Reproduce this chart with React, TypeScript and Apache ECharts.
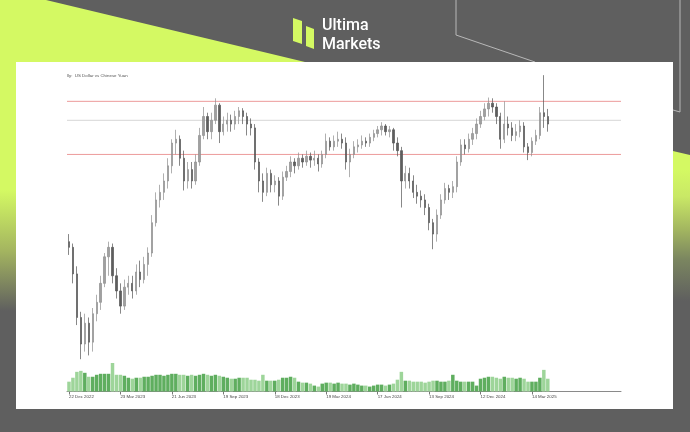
import React, { useEffect, useRef } from "react";
import * as echarts from "echarts";

// ---- chart data (weekly candles, USD/CNY) ----
const TITLE = "lly:  US Dollar vs Chinese Yuan";

const TICK_LABELS = [
  "22 Dec 2022", "23 Mar 2023", "21 Jun 2023", "19 Sep 2023", "18 Dec 2023",
  "19 Mar 2024", "17 Jun 2024", "13 Sep 2024", "12 Dec 2024", "14 Mar 2025",
];
const TICK_EVERY = 13; // weeks between labelled ticks
const SLOTS = 140; // axis length in weeks (leaves empty room on the right)

const OPEN = [
  6.990, 6.975, 6.905, 6.790, 6.720, 6.775, 6.725, 6.800, 6.830, 6.880,
  6.950, 6.975, 6.900, 6.860, 6.820, 6.870, 6.880, 6.860, 6.910, 6.890,
  6.930, 6.960, 7.040, 7.100, 7.120, 7.150, 7.190, 7.250, 7.260, 7.210,
  7.150, 7.180, 7.150, 7.200, 7.270, 7.320, 7.280, 7.310, 7.350, 7.280,
  7.300, 7.310, 7.300, 7.320, 7.335, 7.320, 7.300, 7.290, 7.200, 7.150,
  7.120, 7.170, 7.140, 7.150, 7.110, 7.160, 7.175, 7.200, 7.190, 7.210,
  7.200, 7.215, 7.205, 7.210, 7.195, 7.220, 7.255, 7.240, 7.255, 7.260,
  7.250, 7.200, 7.220, 7.240, 7.245, 7.255, 7.250, 7.265, 7.275, 7.285,
  7.295, 7.280, 7.285, 7.250, 7.230, 7.150, 7.170, 7.150, 7.120, 7.110,
  7.100, 7.080, 7.040, 7.010, 7.060, 7.100, 7.130, 7.120, 7.135, 7.200,
  7.245, 7.235, 7.260, 7.275, 7.300, 7.320, 7.340, 7.355, 7.345, 7.320,
  7.260, 7.300, 7.290, 7.270, 7.280, 7.295, 7.240, 7.225, 7.255, 7.270,
  7.330, 7.320,
];
const CLOSE = [
  6.975, 6.905, 6.790, 6.720, 6.775, 6.725, 6.800, 6.830, 6.880, 6.950,
  6.975, 6.900, 6.860, 6.820, 6.870, 6.880, 6.860, 6.910, 6.890, 6.930,
  6.960, 7.040, 7.100, 7.120, 7.150, 7.190, 7.250, 7.260, 7.210, 7.150,
  7.180, 7.150, 7.200, 7.270, 7.320, 7.280, 7.310, 7.350, 7.280, 7.300,
  7.310, 7.300, 7.320, 7.335, 7.320, 7.300, 7.290, 7.200, 7.150, 7.120,
  7.170, 7.140, 7.150, 7.110, 7.160, 7.175, 7.200, 7.190, 7.210, 7.200,
  7.215, 7.205, 7.210, 7.195, 7.220, 7.255, 7.240, 7.255, 7.260, 7.250,
  7.200, 7.220, 7.240, 7.245, 7.255, 7.250, 7.265, 7.275, 7.285, 7.295,
  7.280, 7.285, 7.250, 7.230, 7.150, 7.170, 7.150, 7.120, 7.110, 7.100,
  7.080, 7.040, 7.010, 7.060, 7.100, 7.130, 7.120, 7.135, 7.200, 7.245,
  7.235, 7.260, 7.275, 7.300, 7.320, 7.340, 7.355, 7.345, 7.320, 7.260,
  7.300, 7.290, 7.270, 7.280, 7.295, 7.240, 7.225, 7.255, 7.270, 7.330,
  7.320, 7.300,
];
const LOW = [
  6.955, 6.880, 6.770, 6.680, 6.700, 6.690, 6.700, 6.780, 6.810, 6.870,
  6.900, 6.880, 6.840, 6.800, 6.810, 6.850, 6.840, 6.850, 6.870, 6.880,
  6.900, 6.950, 7.030, 7.080, 7.100, 7.130, 7.170, 7.220, 7.190, 7.125,
  7.130, 7.130, 7.140, 7.190, 7.260, 7.260, 7.260, 7.300, 7.250, 7.270,
  7.280, 7.280, 7.285, 7.300, 7.300, 7.270, 7.270, 7.180, 7.120, 7.095,
  7.110, 7.120, 7.120, 7.085, 7.100, 7.150, 7.160, 7.170, 7.180, 7.185,
  7.190, 7.185, 7.190, 7.175, 7.185, 7.210, 7.230, 7.230, 7.240, 7.235,
  7.180, 7.160, 7.210, 7.225, 7.235, 7.240, 7.240, 7.255, 7.265, 7.270,
  7.270, 7.265, 7.230, 7.215, 7.080, 7.130, 7.130, 7.105, 7.090, 7.080,
  7.060, 7.020, 6.970, 6.990, 7.050, 7.090, 7.100, 7.105, 7.120, 7.190,
  7.220, 7.225, 7.245, 7.260, 7.290, 7.310, 7.320, 7.330, 7.300, 7.235,
  7.250, 7.270, 7.255, 7.255, 7.265, 7.225, 7.205, 7.215, 7.245, 7.260,
  7.290, 7.280,
];
const HIGH = [
  7.010, 6.985, 6.925, 6.805, 6.800, 6.790, 6.815, 6.850, 6.900, 6.960,
  6.990, 6.985, 6.920, 6.880, 6.890, 6.900, 6.900, 6.930, 6.940, 6.950,
  6.975, 7.060, 7.120, 7.140, 7.170, 7.210, 7.260, 7.285, 7.270, 7.230,
  7.200, 7.200, 7.220, 7.290, 7.345, 7.330, 7.330, 7.368, 7.355, 7.320,
  7.330, 7.325, 7.335, 7.345, 7.342, 7.330, 7.315, 7.300, 7.210, 7.170,
  7.185, 7.180, 7.165, 7.160, 7.175, 7.190, 7.215, 7.210, 7.225, 7.220,
  7.230, 7.225, 7.230, 7.220, 7.230, 7.275, 7.265, 7.270, 7.280, 7.275,
  7.265, 7.235, 7.255, 7.260, 7.270, 7.265, 7.275, 7.285, 7.295, 7.305,
  7.300, 7.295, 7.290, 7.265, 7.240, 7.190, 7.185, 7.165, 7.140, 7.125,
  7.115, 7.090, 7.050, 7.075, 7.115, 7.145, 7.140, 7.150, 7.215, 7.260,
  7.260, 7.275, 7.290, 7.315, 7.335, 7.355, 7.370, 7.368, 7.355, 7.330,
  7.360, 7.320, 7.305, 7.300, 7.310, 7.305, 7.250, 7.265, 7.285, 7.345,
  7.429, 7.340,
];
const VOLUME = [
  10, 14, 20, 21, 19, 15, 15, 17, 18, 18,
  18, 29, 17, 17, 16, 14, 13, 14, 14, 15,
  15, 16, 17, 17, 16, 17, 18, 18, 17, 17,
  16, 17, 16, 17, 18, 17, 16, 17, 16, 15,
  14, 13, 13, 14, 14, 14, 12, 12, 11, 17,
  11, 11, 11, 12, 14, 14, 15, 14, 10, 9,
  9, 8, 6, 5, 8, 9, 9, 8, 9, 8,
  8, 7, 8, 7, 6, 6, 5, 6, 7, 7,
  6, 7, 8, 12, 20, 11, 11, 10, 10, 10,
  9, 10, 11, 11, 10, 10, 11, 17, 11, 10,
  10, 10, 10, 6, 13, 14, 15, 15, 14, 13,
  15, 14, 14, 13, 14, 13, 10, 10, 10, 14,
  22, 13,
];
// horizontal reference levels: [price, colour]
const LEVELS: [number, string][] = [
  [7.36, "#ec9a9a"],
  [7.31, "#d6d6d6"],
  [7.22, "#ec9a9a"],
];

const MONTHS = ["Jan", "Feb", "Mar", "Apr", "May", "Jun", "Jul", "Aug", "Sep", "Oct", "Nov", "Dec"];
const START = Date.UTC(2022, 11, 22);
const CATEGORIES = Array.from({ length: SLOTS }, (_, i) => {
  const d = new Date(START + i * 7 * 86400000);
  return `${d.getUTCDate()} ${MONTHS[d.getUTCMonth()]} ${d.getUTCFullYear()}`;
});

const LIME = "#d4f963";
const BG = "#5f5f5f";

function isTick(index: number) {
  return index % TICK_EVERY === 0 && index / TICK_EVERY < TICK_LABELS.length;
}

export default function App() {
  const ref = useRef<HTMLDivElement>(null);

  useEffect(() => {
    if (!ref.current) return;
    const chart = echarts.init(ref.current, undefined, { renderer: "svg" });

    const candles = OPEN.map((o, i) => [o, CLOSE[i], LOW[i], HIGH[i]]);
    const volumes = VOLUME.map((v, i) => ({
      value: v,
      itemStyle: { color: CLOSE[i] >= OPEN[i] ? "#5fae5f" : "#9ed59a" },
    }));

    const leftFill = new echarts.graphic.LinearGradient(0, 0, 0, 1, [
      { offset: 0, color: LIME },
      { offset: 0.44, color: LIME },
      { offset: 0.58, color: "#a4b560" },
      { offset: 0.72, color: BG },
      { offset: 1, color: BG },
    ]);
    const rightFill = new echarts.graphic.LinearGradient(0, 0, 0, 1, [
      { offset: 0, color: LIME },
      { offset: 0.12, color: LIME },
      { offset: 0.21, color: "#c9e866" },
      { offset: 0.32, color: "#a3b660" },
      { offset: 0.42, color: "#7b8660" },
      { offset: 0.56, color: BG },
      { offset: 1, color: BG },
    ]);

    const logoText = (text: string, y: number) => ({
      type: "text",
      silent: true,
      x: 322,
      y,
      style: {
        text,
        fill: "#ffffff",
        fontSize: 16,
        lineHeight: 14,
        fontWeight: 500,
        fontFamily: "Roboto",
        verticalAlign: "middle",
      },
    });

    // one flat line per reference level, across the full price grid
    // (uses a hidden 0..1 value axis so it reaches both grid edges)
    const levelSeries = LEVELS.map(([v, c]) => ({
      type: "line",
      xAxisIndex: 2,
      yAxisIndex: 0,
      data: [[0, v], [1, v]],
      symbol: "none",
      silent: true,
      z: 1,
      lineStyle: { color: c, width: 1 },
    }));

    chart.setOption({
      animation: false,
      graphic: [
        { type: "rect", silent: true, shape: { x: 0, y: 0, width: 690, height: 432 }, style: { fill: BG } },
        {
          type: "polygon",
          silent: true,
          shape: { points: [[0, 0], [46, 0], [305, 62], [16, 62], [16, 432], [0, 432]] },
          style: { fill: leftFill },
        },
        {
          type: "polygon",
          silent: true,
          shape: { points: [[600, 134], [690, 155], [690, 432], [600, 432]] },
          style: { fill: rightFill },
        },
        {
          type: "polyline",
          silent: true,
          shape: { points: [[456, 0], [456, 35], [535, 62]] },
          style: { stroke: "#b8b8b8", lineWidth: 1, fill: null },
        },
        {
          type: "polyline",
          silent: true,
          shape: { points: [[680, 0], [680, 112], [673, 110]] },
          style: { stroke: "#b8b8b8", lineWidth: 1, fill: null },
        },
        { type: "rect", silent: true, shape: { x: 16, y: 62, width: 657, height: 347 }, style: { fill: "#ffffff" } },
        // logo mark
        {
          type: "polygon",
          silent: true,
          shape: { points: [[293, 18], [302, 21], [302, 44], [293, 41]] },
          style: { fill: LIME },
        },
        {
          type: "polygon",
          silent: true,
          shape: { points: [[306, 26], [314, 29], [314, 49], [306, 46]] },
          style: { fill: LIME },
        },
        logoText("Ultima", 24),
        logoText("Markets", 43),
        {
          type: "text",
          silent: true,
          x: 67,
          y: 75,
          style: {
            text: TITLE,
            fill: "#555555",
            fontSize: 4.4,
            fontFamily: "Liberation Sans",
            verticalAlign: "middle",
          },
        },
      ],
      grid: [
        { left: 67, right: 69, top: 71, height: 292 },
        { left: 67, right: 69, top: 362, height: 29.5 },
      ],
      xAxis: [
        {
          type: "category",
          gridIndex: 0,
          data: CATEGORIES,
          boundaryGap: true,
          show: false,
        },
        {
          type: "category",
          gridIndex: 1,
          data: CATEGORIES,
          boundaryGap: true,
          axisLine: { lineStyle: { color: "#8a8a8a", width: 1 } },
          axisTick: { show: true, interval: isTick, alignWithLabel: true, length: 3, lineStyle: { color: "#777" } },
          axisLabel: {
            interval: isTick,
            formatter: (_v: string, index: number) => TICK_LABELS[index / TICK_EVERY] ?? "",
            align: "left",
            margin: 3,
            fontSize: 4.4,
            fontFamily: "Liberation Sans",
            color: "#444444",
          },
          splitLine: { show: false },
        },
        {
          type: "value",
          gridIndex: 0,
          min: 0,
          max: 1,
          show: false,
          splitLine: { show: false },
        },
      ],
      yAxis: [
        { type: "value", gridIndex: 0, min: 6.67, max: 7.44, show: false, splitLine: { show: false } },
        { type: "value", gridIndex: 1, min: 0, max: 30, show: false, splitLine: { show: false } },
      ],
      series: [
        ...levelSeries,
        {
          type: "candlestick",
          xAxisIndex: 0,
          yAxisIndex: 0,
          data: candles,
          barWidth: 1.8,
          z: 3,
          itemStyle: {
            color: "#a0a0a0",
            color0: "#5e5e5e",
            borderColor: "#8e8e8e",
            borderColor0: "#555555",
            borderWidth: 0.7,
          },
        },
        {
          type: "bar",
          xAxisIndex: 1,
          yAxisIndex: 1,
          data: volumes,
          barWidth: "88%",
        },
      ],
    });

    return () => chart.dispose();
  }, []);

  return (
    <div
      ref={ref}
      style={{ position: "fixed", left: 0, top: 0, width: 690, height: 432 }}
    />
  );
}
